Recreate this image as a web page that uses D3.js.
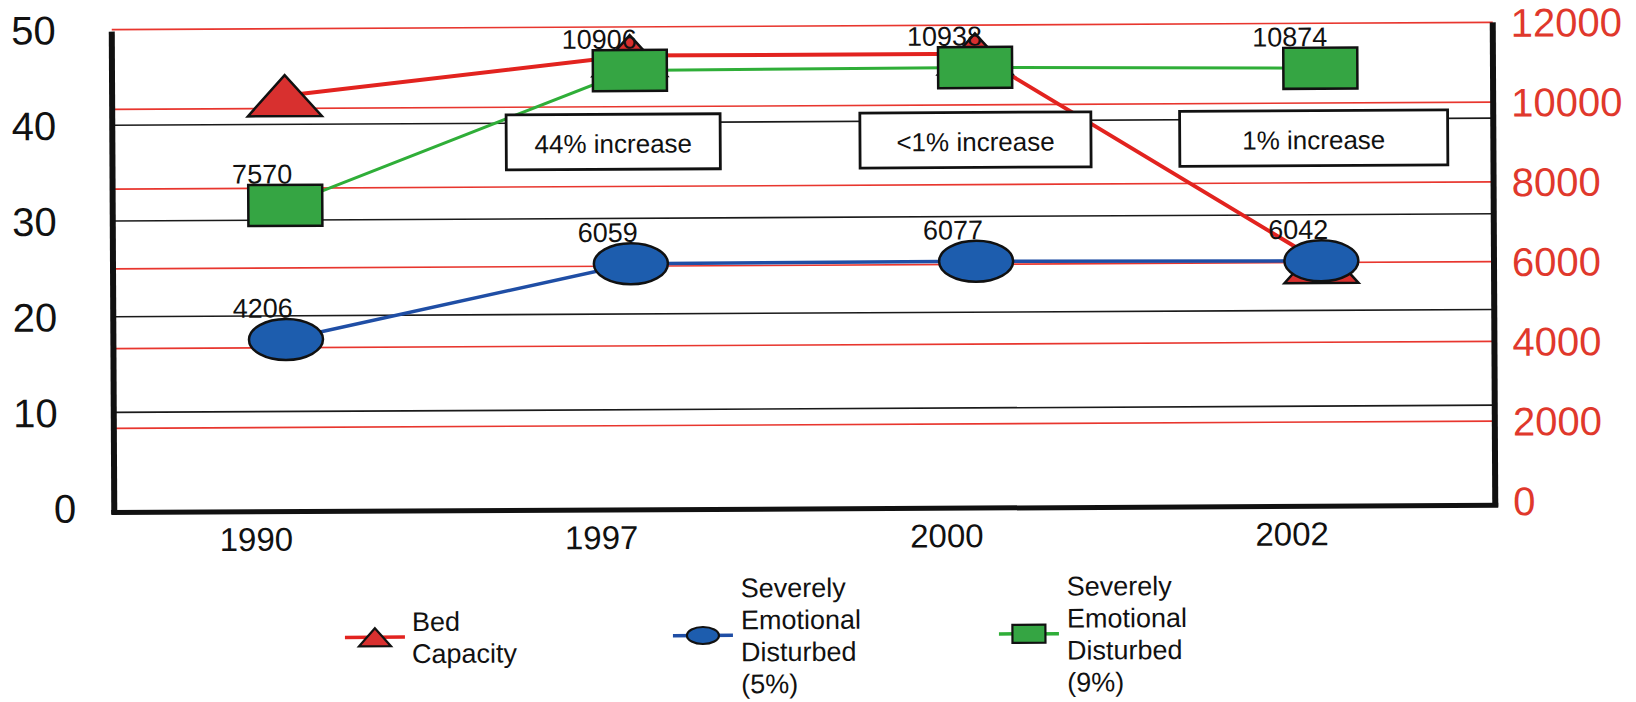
<!DOCTYPE html>
<html>
<head>
<meta charset="utf-8">
<script src="https://cdn.jsdelivr.net/npm/d3@7"></script>
<style>
  html, body { margin: 0; padding: 0; background: #fff; }
  svg { display: block; }
  text { font-family: "Liberation Sans", Arial, Helvetica, sans-serif; }
</style>
</head>
<body>
<svg id="chart" width="1636" height="702"></svg>
<script>
// ---------- data ----------
const categories = ["1990", "1997", "2000", "2002"];
const bedCapacity = [43, 47, 47, 25];            // left axis
const sed5 = [4206, 6059, 6077, 6042];          // right axis
const sed9 = [7570, 10906, 10938, 10874];       // right axis
const leftTicks = [0, 10, 20, 30, 40, 50];
const rightTicks = [0, 2000, 4000, 6000, 8000, 10000, 12000];
const annotationTexts = ["44% increase", "<1% increase", "1% increase"];
const annotationCats = ["1997", "2000", "2002"];
const annotationLevel = [38, 38, 38];            // left-axis level of box centre
const legendNames = [
  ["Bed", "Capacity"],
  ["Severely", "Emotional", "Disturbed", "(5%)"],
  ["Severely", "Emotional", "Disturbed", "(9%)"]
];

// ---------- layout / style ----------
const L = 113, R = 1494, T = 26, B = 504.5;
const boxWidths = [214, 231, 268];
const boxShift = [-17, 0, -7];
const boxH = 55;
const RED = "#e2231f", GRIDRED = "#e8362e", GREEN = "#2fae38", GREENFILL = "#35a543",
      BLUE = "#1f4ea5", BLUEFILL = "#1d5dae", TRIFILL = "#d8302f";

const svg = d3.select("#chart");
const g = svg.append("g").attr("transform", "rotate(-0.3, 802, 265)");

const x = d3.scaleBand().domain(categories).range([L, R]).paddingInner(0).paddingOuter(0);
const xc = c => x(c) + x.bandwidth() / 2;
const yL = d3.scaleLinear().domain([0, 50]).range([B, T]);
const yR = d3.scaleLinear().domain([0, 12000]).range([B, T]);

// grid lines
g.append("g").selectAll("line").data(leftTicks.filter(t => t > 0 && t < 50)).join("line")
  .attr("x1", L).attr("x2", R).attr("y1", d => yL(d)).attr("y2", d => yL(d))
  .attr("stroke", "#1a1a1a").attr("stroke-width", 1.6);
g.append("g").selectAll("line").data(rightTicks.filter(t => t > 0)).join("line")
  .attr("x1", L).attr("x2", R).attr("y1", d => yR(d)).attr("y2", d => yR(d))
  .attr("stroke", GRIDRED).attr("stroke-width", 1.6);

// tick labels
g.append("g").selectAll("text").data(leftTicks).join("text")
  .attr("x", d => d === 0 ? 75 : 57).attr("y", d => yL(d)).attr("dy", "0.36em")
  .attr("text-anchor", "end").attr("font-size", 40).attr("fill", "#111")
  .text(d => d);
g.append("g").selectAll("text").data(rightTicks).join("text")
  .attr("x", 1512).attr("y", d => yR(d)).attr("dy", "0.36em")
  .attr("text-anchor", "start").attr("font-size", 40).attr("fill", "#e0382c")
  .text(d => d);
g.append("g").selectAll("text").data(categories).join("text")
  .attr("x", d => xc(d) + 6).attr("y", 548)
  .attr("text-anchor", "end").attr("font-size", 33).attr("fill", "#111")
  .text(d => d);

const mw = 74, mh = 41;
const triPath = (w, h) => `M0,${-h/2}L${w/2},${h/2}L${-w/2},${h/2}Z`;

// Bed capacity (red)
const lineL = d3.line().x((d, i) => xc(categories[i])).y(d => yL(d));
const lineR = d3.line().x((d, i) => xc(categories[i])).y(d => yR(d));
g.append("path").datum(bedCapacity).attr("d", lineL)
  .attr("fill", "none").attr("stroke", RED).attr("stroke-width", 4);
g.append("g").selectAll("path").data(bedCapacity).join("path")
  .attr("transform", (d, i) => `translate(${xc(categories[i])},${yL(d)})`)
  .attr("d", triPath(mw, mh)).attr("fill", TRIFILL)
  .attr("stroke", "#111").attr("stroke-width", 2.5).attr("stroke-linejoin", "miter");

// SED 5% (blue)
g.append("path").datum(sed5).attr("d", lineR)
  .attr("fill", "none").attr("stroke", BLUE).attr("stroke-width", 3.5);
g.append("g").selectAll("ellipse").data(sed5).join("ellipse")
  .attr("cx", (d, i) => xc(categories[i])).attr("cy", d => yR(d))
  .attr("rx", mw / 2).attr("ry", mh / 2)
  .attr("fill", BLUEFILL).attr("stroke", "#111").attr("stroke-width", 2.5);

// SED 9% (green)
g.append("path").datum(sed9).attr("d", lineR)
  .attr("fill", "none").attr("stroke", GREEN).attr("stroke-width", 3);
g.append("g").selectAll("rect").data(sed9).join("rect")
  .attr("x", (d, i) => xc(categories[i]) - mw / 2).attr("y", d => yR(d) - mh / 2)
  .attr("width", mw).attr("height", mh)
  .attr("fill", GREENFILL).attr("stroke", "#111").attr("stroke-width", 2.5);

// annotation boxes
const ann = g.append("g").selectAll("g").data(annotationTexts).join("g")
  .attr("transform", (d, i) => `translate(${xc(annotationCats[i]) + boxShift[i]},${yL(annotationLevel[i])})`);
ann.append("rect").attr("x", (d, i) => -boxWidths[i] / 2).attr("y", -boxH / 2)
  .attr("width", (d, i) => boxWidths[i]).attr("height", boxH)
  .attr("fill", "#fff").attr("stroke", "#111").attr("stroke-width", 2.8);
ann.append("text").attr("text-anchor", "middle").attr("y", 11)
  .attr("font-size", 26).attr("fill", "#111").text(d => d);

// value labels
g.append("g").selectAll("text").data(sed9).join("text")
  .attr("x", (d, i) => xc(categories[i]) + 7).attr("y", d => yR(d) - 22)
  .attr("text-anchor", "end").attr("font-size", 27).attr("fill", "#111").text(d => d);
g.append("g").selectAll("text").data(sed5).join("text")
  .attr("x", (d, i) => xc(categories[i]) + 7).attr("y", d => yR(d) - 22)
  .attr("text-anchor", "end").attr("font-size", 27).attr("fill", "#111").text(d => d);

// axes (thick lines)
g.append("line").attr("x1", L).attr("x2", L).attr("y1", T + 2).attr("y2", B + 6)
  .attr("stroke", "#111").attr("stroke-width", 6);
g.append("line").attr("x1", R).attr("x2", R).attr("y1", T).attr("y2", B + 6)
  .attr("stroke", "#111").attr("stroke-width", 6);
g.append("line").attr("x1", L - 3).attr("x2", R + 3).attr("y1", B + 4.5).attr("y2", B + 4.5)
  .attr("stroke", "#111").attr("stroke-width", 5);

// legend
const legendX = [373, 701, 1027];
const legendTextX = [410, 739, 1065];
const legendColors = [RED, BLUE, GREEN];
const legY = 635;
const leg = g.append("g");
legendX.forEach((lx, i) => {
  leg.append("line").attr("x1", lx - 30).attr("x2", lx + 30).attr("y1", legY).attr("y2", legY)
    .attr("stroke", legendColors[i]).attr("stroke-width", 3.5);
  if (i === 0) {
    leg.append("path").attr("transform", `translate(${lx},${legY})`).attr("d", triPath(32, 18))
      .attr("fill", TRIFILL).attr("stroke", "#111").attr("stroke-width", 2.2);
  } else if (i === 1) {
    leg.append("ellipse").attr("cx", lx).attr("cy", legY).attr("rx", 16).attr("ry", 8.5)
      .attr("fill", BLUEFILL).attr("stroke", "#111").attr("stroke-width", 2.2);
  } else {
    leg.append("rect").attr("x", lx - 16.5).attr("y", legY - 9).attr("width", 33).attr("height", 18)
      .attr("fill", GREENFILL).attr("stroke", "#111").attr("stroke-width", 2.2);
  }
  const lines = legendNames[i];
  const n = lines.length;
  leg.append("g").selectAll("text").data(lines).join("text")
    .attr("x", legendTextX[i])
    .attr("y", (d, k) => 645 + (k - (n - 1) / 2) * 32)
    .attr("font-size", 27).attr("fill", "#111").text(d => d);
});
</script>
</body>
</html>
